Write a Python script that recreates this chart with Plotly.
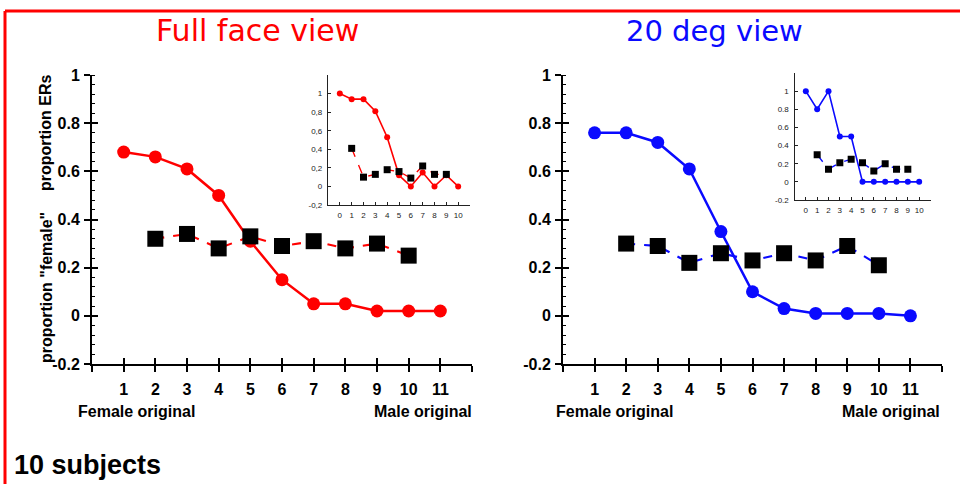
import plotly.graph_objects as go

# ---------------- data ----------------
levels = [1, 2, 3, 4, 5, 6, 7, 8, 9, 10, 11]
er_levels = [2, 3, 4, 5, 6, 7, 8, 9, 10]
full_female = [0.68, 0.66, 0.61, 0.50, 0.31, 0.15, 0.05, 0.05, 0.02, 0.02, 0.02]
full_er = [0.32, 0.34, 0.28, 0.33, 0.29, 0.31, 0.28, 0.30, 0.25]
deg_female = [0.76, 0.76, 0.72, 0.61, 0.35, 0.10, 0.03, 0.01, 0.01, 0.01, 0.00]
deg_er = [0.30, 0.29, 0.22, 0.26, 0.23, 0.26, 0.23, 0.29, 0.21]

inset_levels = [0, 1, 2, 3, 4, 5, 6, 7, 8, 9, 10]
inset_er_levels = [1, 2, 3, 4, 5, 6, 7, 8, 9]
full_inset_female = [1.0, 0.94, 0.94, 0.81, 0.53, 0.12, 0.0, 0.15, 0.0, 0.12, 0.0]
full_inset_er = [0.41, 0.10, 0.13, 0.18, 0.16, 0.09, 0.22, 0.13, 0.13]
deg_inset_female = [1.0, 0.8, 1.0, 0.5, 0.5, 0.0, 0.0, 0.0, 0.0, 0.0, 0.0]
deg_inset_er = [0.30, 0.14, 0.21, 0.25, 0.21, 0.12, 0.20, 0.14, 0.14]

main_x_ticks = list(range(0, 13))
main_x_text = [""] + [str(i) for i in range(1, 12)] + [""]
main_y_ticks = [-0.2, 0, 0.2, 0.4, 0.6, 0.8, 1]
main_y_text = ["-0.2", "0", "0.2", "0.4", "0.6", "0.8", "1"]
inset_y_text_comma = ["-0,2", "0", "0,2", "0,4", "0,6", "0,8", "1"]
inset_y_text_dot = ["-0.2", "0", "0.2", "0.4", "0.6", "0.8", "1"]

RED = "#ff0000"
BLUE = "#0a0aff"
W, H = 960, 484


def px_x(p):
    return p / W


def px_y(p):
    return 1 - p / H


fig = go.Figure()


def add_pair(xa, ya, female, er, color, xs, ers, msize_c, msize_s, lw):
    fig.add_trace(go.Scatter(x=xs, y=female, mode="lines+markers",
                             line=dict(color=color, width=lw),
                             marker=dict(color=color, size=msize_c, symbol="circle"),
                             xaxis=xa, yaxis=ya, showlegend=False, hoverinfo="skip"))
    fig.add_trace(go.Scatter(x=ers, y=er, mode="lines+markers",
                             line=dict(color=color, width=lw * 0.85, dash="dash"),
                             marker=dict(color="black", size=msize_s, symbol="square"),
                             xaxis=xa, yaxis=ya, showlegend=False, hoverinfo="skip"))


add_pair("x", "y", full_female, full_er, RED, levels, er_levels, 13, 16, 2.5)
add_pair("x2", "y2", deg_female, deg_er, BLUE, levels, er_levels, 13, 16, 2.5)
add_pair("x3", "y3", full_inset_female, full_inset_er, RED, inset_levels, inset_er_levels, 6, 7, 1.6)
add_pair("x4", "y4", deg_inset_female, deg_inset_er, BLUE, inset_levels, inset_er_levels, 6, 7, 1.6)

# empty traces so the overlay axes (ticks on the far side of the axis lines) are drawn
for xa, ya in [("x5", "y"), ("x6", "y2"), ("x", "y5"), ("x2", "y6")]:
    fig.add_trace(go.Scatter(x=[], y=[], xaxis=xa, yaxis=ya, showlegend=False, hoverinfo="skip"))

tickfont_main = dict(family="Liberation Sans, Arial, sans-serif", size=16, color="black", weight="bold")
tickfont_inset = dict(family="Liberation Sans, Arial, sans-serif", size=8, color="#222222")

main_y_dom = [px_y(364), px_y(75)]
left_x_dom = [px_x(92), px_x(472)]
right_x_dom = [px_x(563), px_x(942)]


def main_xaxis(dom, anchor):
    return dict(domain=dom, anchor=anchor, range=[0, 12], tickmode="array",
                tickvals=main_x_ticks, ticktext=main_x_text, ticks="outside",
                ticklen=6, tickwidth=1.5, tickcolor="black", showline=True,
                linewidth=2, linecolor="black", showgrid=False, zeroline=False,
                tickfont=tickfont_main, ticklabelstandoff=4, fixedrange=True)


def main_yaxis(anchor):
    return dict(domain=main_y_dom, anchor=anchor, range=[-0.2, 1], tickmode="array",
                tickvals=main_y_ticks, ticktext=main_y_text, ticks="outside",
                ticklen=6, tickwidth=1.5, tickcolor="black", showline=True,
                linewidth=2, linecolor="black", showgrid=False, zeroline=False,
                tickfont=tickfont_main, ticklabelstandoff=1,
                minor=dict(ticks="inside", ticklen=3, tick0=-0.2, dtick=0.04,
                           tickcolor="black", tickwidth=1, showgrid=False),
                fixedrange=True)


def overlay_x(over, anchor, dom):
    return dict(overlaying=over, anchor=anchor, domain=dom, range=[0, 12], tickmode="array",
                tickvals=main_x_ticks, ticks="inside", ticklen=6, tickwidth=1.5,
                tickcolor="black", showticklabels=False, showline=False,
                showgrid=False, zeroline=False, fixedrange=True)


def overlay_y(over, anchor):
    return dict(overlaying=over, anchor=anchor, domain=main_y_dom, range=[-0.2, 1],
                tickmode="array", tickvals=main_y_ticks, ticks="inside", ticklen=6,
                tickwidth=1.5, tickcolor="black", showticklabels=False, showline=False,
                showgrid=False, zeroline=False, fixedrange=True)


def inset_xaxis(dom, anchor):
    return dict(domain=dom, anchor=anchor, range=[-1, 11], tickmode="array",
                tickvals=inset_levels, ticks="inside", ticklen=3, tickwidth=1,
                tickcolor="#222222", showline=True, linewidth=1.2, linecolor="#222222",
                showgrid=False, zeroline=False, tickfont=tickfont_inset,
                ticklabelstandoff=2, fixedrange=True)


def inset_yaxis(dom, anchor, text):
    return dict(domain=dom, anchor=anchor, range=[-0.2, 1.2], tickmode="array",
                tickvals=main_y_ticks, ticktext=text, ticks="inside", ticklen=3,
                tickwidth=1, tickcolor="#222222", showline=True, linewidth=1.2,
                linecolor="#222222", showgrid=False, zeroline=False,
                tickfont=tickfont_inset, ticklabelstandoff=3, fixedrange=True)


fig.update_layout(
    width=W, height=H,
    margin=dict(l=0, r=0, t=0, b=0, autoexpand=False),
    paper_bgcolor="white", plot_bgcolor="rgba(0,0,0,0)",
    showlegend=False,
    xaxis=main_xaxis(left_x_dom, "y"),
    yaxis=main_yaxis("x"),
    xaxis2=main_xaxis(right_x_dom, "y2"),
    yaxis2=main_yaxis("x2"),
    xaxis3=inset_xaxis([px_x(328), px_x(470)], "y3"),
    yaxis3=inset_yaxis([px_y(205), px_y(75)], "x3", inset_y_text_comma),
    xaxis4=inset_xaxis([px_x(794.5), px_x(930.5)], "y4"),
    yaxis4=inset_yaxis([px_y(200), px_y(73)], "x4", inset_y_text_dot),
    xaxis5=overlay_x("x", "y", left_x_dom),
    xaxis6=overlay_x("x2", "y2", right_x_dom),
    yaxis5=overlay_y("y", "x"),
    yaxis6=overlay_y("y2", "x2"),
)

title_font = "DejaVu Sans, sans-serif"
lab_font = dict(family="Liberation Sans, Arial, sans-serif", size=16, color="black", weight="bold")
ylab_font = dict(family="Liberation Sans, Arial, sans-serif", size=16, color="black", weight="bold")
ann = [
    dict(text="Full face view", x=px_x(257), y=px_y(30), font=dict(family=title_font, size=30, color=RED)),
    dict(text="20 deg view", x=px_x(714), y=px_y(31), font=dict(family=title_font, size=29, color=BLUE)),
    dict(text="proportion ERs", x=px_x(46), y=px_y(133), textangle=-90, font=ylab_font),
    dict(text='proportion "female"', x=px_x(46), y=px_y(288), textangle=-90, font=ylab_font),
    dict(text="Female original", x=px_x(136), y=px_y(411), font=lab_font),
    dict(text="Male original", x=px_x(423), y=px_y(411), font=lab_font),
    dict(text="Female original", x=px_x(614), y=px_y(411), font=lab_font),
    dict(text="Male original", x=px_x(891), y=px_y(411), font=lab_font),
    dict(text="10 subjects", x=px_x(12), y=px_y(465), xanchor="left",
         font=dict(family="Liberation Sans, Arial, sans-serif", size=27, color="black", weight="bold")),
]
for a in ann:
    a.setdefault("xanchor", "center")
    a.update(xref="paper", yref="paper", yanchor="middle", showarrow=False)
fig.update_layout(annotations=ann)

# red frame (top and left edges visible)
fig.add_shape(type="line", xref="paper", yref="paper", x0=px_x(5), x1=1.02, y0=px_y(11), y1=px_y(11),
              line=dict(color=RED, width=3))
fig.add_shape(type="line", xref="paper", yref="paper", x0=px_x(5), x1=px_x(5), y0=px_y(11), y1=-0.02,
              line=dict(color=RED, width=3))

fig.write_html("out.html", config={"displayModeBar": False},
               post_script="document.body.style.margin='0';document.body.style.overflow='hidden';")
